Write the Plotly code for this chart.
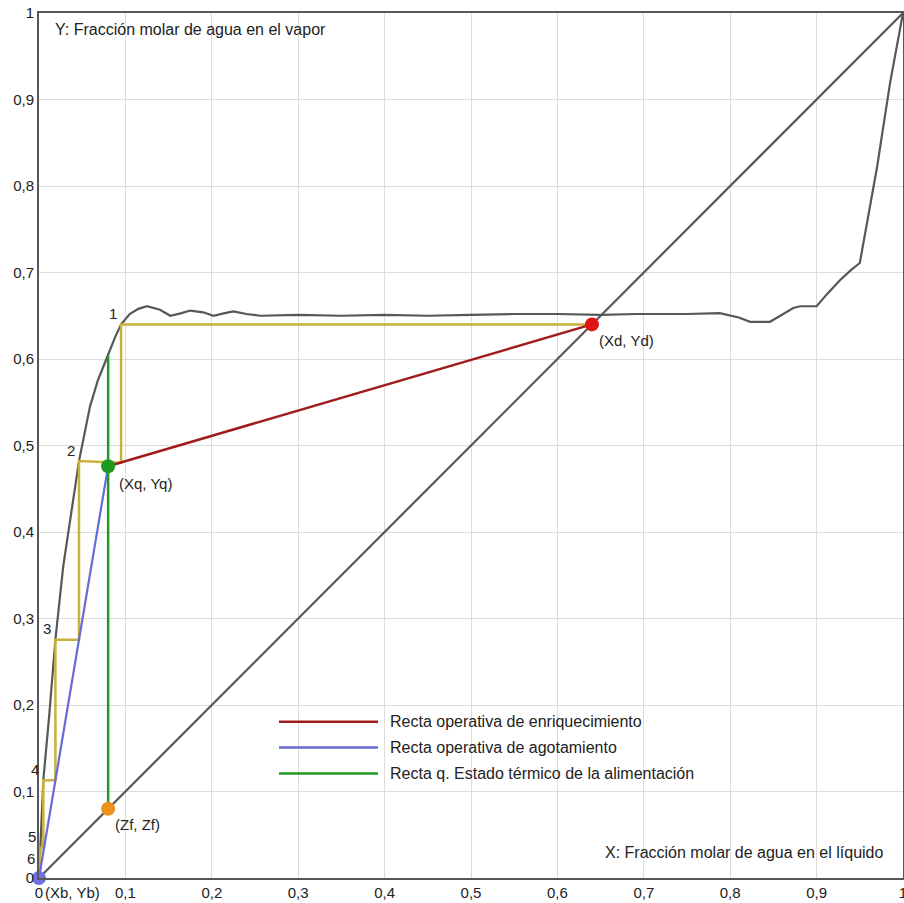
import plotly.graph_objects as go

# ---------------- data ----------------
# Equilibrium curve (x: liquid, y: vapour)
eq_x = [0.0, 0.0004, 0.0015, 0.005, 0.012, 0.019, 0.028, 0.039, 0.0463, 0.059, 0.068, 0.078,
        0.088, 0.095, 0.105, 0.115, 0.125, 0.14, 0.152, 0.165, 0.175, 0.19, 0.202, 0.215, 0.225,
        0.24, 0.256, 0.3, 0.35, 0.4, 0.45, 0.5, 0.55, 0.6, 0.65, 0.692, 0.75, 0.788, 0.81,
        0.823, 0.846, 0.858, 0.873, 0.881, 0.9, 0.912, 0.927, 0.94, 0.95, 0.97, 0.985, 1.0]
eq_y = [0.0, 0.009, 0.03, 0.113, 0.19, 0.276, 0.36, 0.437, 0.482, 0.545, 0.575, 0.60,
        0.625, 0.64, 0.652, 0.658, 0.661, 0.657, 0.650, 0.653, 0.656, 0.654, 0.650, 0.653, 0.655,
        0.652, 0.650, 0.651, 0.650, 0.651, 0.650, 0.651, 0.652, 0.652, 0.651, 0.652, 0.652, 0.653, 0.648,
        0.643, 0.643, 0.650, 0.659, 0.661, 0.661, 0.675, 0.691, 0.703, 0.711, 0.822, 0.919, 1.0]

diag = [0.0, 1.0]

# key points
xd, yd = 0.64, 0.64
xq, yq = 0.08, 0.476
zf = 0.08
xb, yb = 0.0, 0.0
xq_eq = 0.605  # q-line top on equilibrium curve

# McCabe-Thiele staircase
step_x = [0.64, 0.095, 0.095, 0.0463, 0.0463, 0.019, 0.019, 0.005, 0.005, 0.0015, 0.0015, 0.0004, 0.0004]
step_y = [0.64, 0.64, 0.48, 0.482, 0.2755, 0.2755, 0.113, 0.113, 0.035, 0.035, 0.01, 0.01, 0.0024]
stage_labels = ["1", "2", "3", "4", "5", "6"]
stage_x = [0.095, 0.0463, 0.019, 0.005, 0.0015, 0.0004]
stage_y = [0.64, 0.482, 0.2755, 0.113, 0.035, 0.01]

tick_vals = [0, 0.1, 0.2, 0.3, 0.4, 0.5, 0.6, 0.7, 0.8, 0.9, 1]
tick_text = ["0", "0,1", "0,2", "0,3", "0,4", "0,5", "0,6", "0,7", "0,8", "0,9", "1"]

legend_names = ["Recta operativa de enriquecimiento",
                "Recta operativa de agotamiento",
                "Recta q. Estado térmico de la alimentación"]

# ---------------- styles ----------------
GRAY = "#575757"
YEL = "#c8b23a"
RED = "#a01c1c"
BLUE = "#6a6ad6"
GREEN = "#1f9a1f"
FONT = "Liberation Sans, Arial, sans-serif"

fig = go.Figure()

fig.add_trace(go.Scatter(x=diag, y=diag, mode="lines", line=dict(color=GRAY, width=2.2),
                         showlegend=False, hoverinfo="skip"))
fig.add_trace(go.Scatter(x=eq_x, y=eq_y, mode="lines", line=dict(color=GRAY, width=2.2),
                         showlegend=False))
fig.add_trace(go.Scatter(x=step_x, y=step_y, mode="lines", line=dict(color=YEL, width=2.5),
                         showlegend=False))
fig.add_trace(go.Scatter(x=[xb, xq], y=[yb, yq], mode="lines", line=dict(color=BLUE, width=2.2),
                         name=legend_names[1], showlegend=False))
fig.add_trace(go.Scatter(x=[xq, xd], y=[yq, yd], mode="lines", line=dict(color=RED, width=2.5),
                         name=legend_names[0], showlegend=False))
fig.add_trace(go.Scatter(x=[zf, zf], y=[zf, xq_eq], mode="lines", line=dict(color=GREEN, width=2.5),
                         name=legend_names[2], showlegend=False))

pts = [(xd, yd, "#e01414", "(Xd, Yd)", 5, -16),
       (xq, yq, "#1f9a1f", "(Xq, Yq)", 9, -17),
       (zf, zf, "#f0901c", "(Zf, Zf)", 5, -16),
       (xb, yb, "#7070e0", "(Xb, Yb)", 4, -14)]
for (px, py, col, lab, xs, ys) in pts:
    fig.add_trace(go.Scatter(x=[px], y=[py], mode="markers",
                             marker=dict(color=col, size=14, line=dict(width=0)),
                             cliponaxis=False, showlegend=False))
    fig.add_annotation(x=px, y=py, text=lab, showarrow=False, xanchor="left", yanchor="middle",
                       xshift=xs, yshift=ys, font=dict(size=15, color="#222", family=FONT))

for lab, sx, sy in zip(stage_labels, stage_x, stage_y):
    fig.add_annotation(x=sx, y=sy, text=lab, showarrow=False, xanchor="center", yanchor="middle",
                       xshift=-8, yshift=11, font=dict(size=15, color="#222", family=FONT))

# axis titles inside the plot
fig.add_annotation(xref="paper", yref="paper", x=0.016, y=0.9815, text="Y: Fracción molar de agua en el vapor",
                   showarrow=False, xanchor="left", yanchor="middle",
                   font=dict(size=16, color="#222", family=FONT))
fig.add_annotation(xref="paper", yref="paper", x=0.979, y=0.030, text="X: Fracción molar de agua en el líquido",
                   showarrow=False, xanchor="right", yanchor="middle",
                   font=dict(size=16, color="#222", family=FONT))

# custom legend
leg_cols = [RED, BLUE, GREEN]
leg_y = [0.1806, 0.1509, 0.1208]
for name, col, ly in zip(legend_names, leg_cols, leg_y):
    fig.add_shape(type="line", xref="paper", yref="paper", x0=0.2778, x1=0.3924, y0=ly, y1=ly,
                  line=dict(color=col, width=2.5))
    fig.add_annotation(xref="paper", yref="paper", x=0.4039, y=ly, text=name, showarrow=False,
                       xanchor="left", yanchor="middle", font=dict(size=16, color="#222", family=FONT))

axis_common = dict(range=[0, 1], tickvals=tick_vals, ticktext=tick_text, showgrid=True,
                   gridcolor="#dcdcdc", gridwidth=1, zeroline=False, showline=True,
                   linecolor=GRAY, linewidth=2, mirror=True, ticks="", automargin=False,
                   ticklabeloverflow="allow",
                   tickfont=dict(size=15, color="#222", family=FONT), fixedrange=True)

fig.update_layout(
    width=904, height=903,
    margin=dict(l=39, r=1, t=13, b=25, autoexpand=False),
    plot_bgcolor="white", paper_bgcolor="white",
    xaxis=axis_common, yaxis=axis_common,
    showlegend=False,
)

# remove the default page margin so the 904x903 figure fills the window exactly
fig.write_html(
    "out.html",
    config={"displayModeBar": False},
    post_script="document.body.style.margin='0';document.body.style.overflow='hidden';"
                "document.documentElement.style.overflow='hidden';",
)
